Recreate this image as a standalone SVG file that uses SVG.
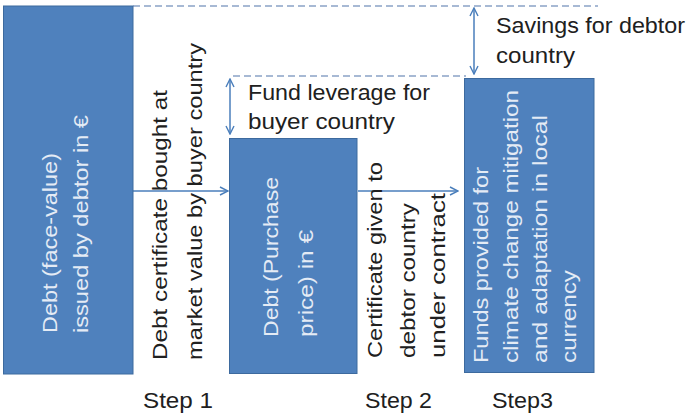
<svg xmlns="http://www.w3.org/2000/svg" width="687" height="417" viewBox="0 0 687 417">
  <style>
    .box { fill: #4f81bd; stroke: #3d6a9e; stroke-width: 1; }
    .in { font-family: "Liberation Sans", Arial, sans-serif; font-size: 21px; fill: #e4ebf5; }
    .out { font-family: "Liberation Sans", Arial, sans-serif; font-size: 21px; fill: #202020; }
    .lbl { font-family: "Liberation Sans", Arial, sans-serif; font-size: 22px; fill: #202020; }
    .flow { stroke: #4a7ebb; stroke-width: 1.5; fill: none; }
    .guide { stroke: #8aa3c6; stroke-width: 1.5; stroke-dasharray: 7 4; fill: none; }
  </style>
  <defs>
    <marker id="head" viewBox="0 0 10 10" refX="9" refY="5" markerWidth="10" markerHeight="10" markerUnits="userSpaceOnUse" orient="auto-start-reverse">
      <path d="M1,1 L9,5 L1,9" fill="none" stroke="#4a7ebb" stroke-width="1.4"/>
    </marker>
  </defs>

  <rect width="687" height="417" fill="#ffffff"/>

  <!-- connectors: flow arrows, dashed level guides and difference arrows -->
  <g id="connectors">
    <line class="guide" x1="133" y1="6" x2="598" y2="6"/>
    <line class="guide" x1="233" y1="76" x2="466" y2="76"/>
    <line class="flow" x1="133" y1="191" x2="228" y2="191" marker-end="url(#head)"/>
    <line class="flow" x1="358" y1="191" x2="458" y2="191" marker-end="url(#head)"/>
    <line class="flow" x1="230" y1="79" x2="230" y2="134" marker-start="url(#head)" marker-end="url(#head)"/>
    <line class="flow" x1="474" y1="8" x2="474" y2="74" marker-start="url(#head)" marker-end="url(#head)"/>
  </g>

  <!-- step 1: face-value debt -->
  <g id="box1">
    <rect class="box" x="3.5" y="6" width="129.5" height="368"/>
    <text class="in" transform="translate(57,333) rotate(-90)" textLength="180" lengthAdjust="spacingAndGlyphs">Debt (face-value)</text>
    <text class="in" transform="translate(88,333) rotate(-90)" textLength="218" lengthAdjust="spacingAndGlyphs">issued by debtor in €</text>
  </g>

  <!-- step 2: purchase price -->
  <g id="box2">
    <rect class="box" x="229.5" y="138.5" width="127.5" height="235"/>
    <text class="in" transform="translate(278,337) rotate(-90)" textLength="160" lengthAdjust="spacingAndGlyphs">Debt (Purchase</text>
    <text class="in" transform="translate(313,337) rotate(-90)" textLength="107" lengthAdjust="spacingAndGlyphs">price) in €</text>
  </g>

  <!-- step 3: local-currency funds -->
  <g id="box3">
    <rect class="box" x="464.5" y="78.5" width="129.5" height="294"/>
    <text class="in" transform="translate(488,363) rotate(-90)" textLength="196" lengthAdjust="spacingAndGlyphs">Funds provided for</text>
    <text class="in" transform="translate(518,363) rotate(-90)" textLength="273" lengthAdjust="spacingAndGlyphs">climate change mitigation</text>
    <text class="in" transform="translate(547,363) rotate(-90)" textLength="248" lengthAdjust="spacingAndGlyphs">and adaptation in local</text>
    <text class="in" transform="translate(576,363) rotate(-90)" textLength="93" lengthAdjust="spacingAndGlyphs">currency</text>
  </g>

  <!-- labels on the transfers -->
  <g id="transfer1">
    <text class="out" transform="translate(167,360) rotate(-90)" textLength="270" lengthAdjust="spacingAndGlyphs">Debt certificate bought at</text>
    <text class="out" transform="translate(202,360) rotate(-90)" textLength="317" lengthAdjust="spacingAndGlyphs">market value by buyer country</text>
  </g>
  <g id="transfer2">
    <text class="out" transform="translate(382,358) rotate(-90)" textLength="196" lengthAdjust="spacingAndGlyphs">Certificate given to</text>
    <text class="out" transform="translate(415,358) rotate(-90)" textLength="155" lengthAdjust="spacingAndGlyphs">debtor country</text>
    <text class="out" transform="translate(445,358) rotate(-90)" textLength="165" lengthAdjust="spacingAndGlyphs">under contract</text>
  </g>

  <!-- difference labels -->
  <g id="leverage">
    <text class="lbl" x="248" y="100" textLength="182" lengthAdjust="spacingAndGlyphs">Fund leverage for</text>
    <text class="lbl" x="248" y="129" textLength="147" lengthAdjust="spacingAndGlyphs">buyer country</text>
  </g>
  <g id="savings">
    <text class="lbl" x="496" y="33" textLength="189" lengthAdjust="spacingAndGlyphs">Savings for debtor</text>
    <text class="lbl" x="496" y="63" textLength="79" lengthAdjust="spacingAndGlyphs">country</text>
  </g>

  <!-- step captions -->
  <g id="steps">
    <text class="lbl" x="143" y="408" textLength="70" lengthAdjust="spacingAndGlyphs">Step 1</text>
    <text class="lbl" x="365" y="408" textLength="67" lengthAdjust="spacingAndGlyphs">Step 2</text>
    <text class="lbl" x="492" y="408" textLength="61" lengthAdjust="spacingAndGlyphs">Step3</text>
  </g>
</svg>
